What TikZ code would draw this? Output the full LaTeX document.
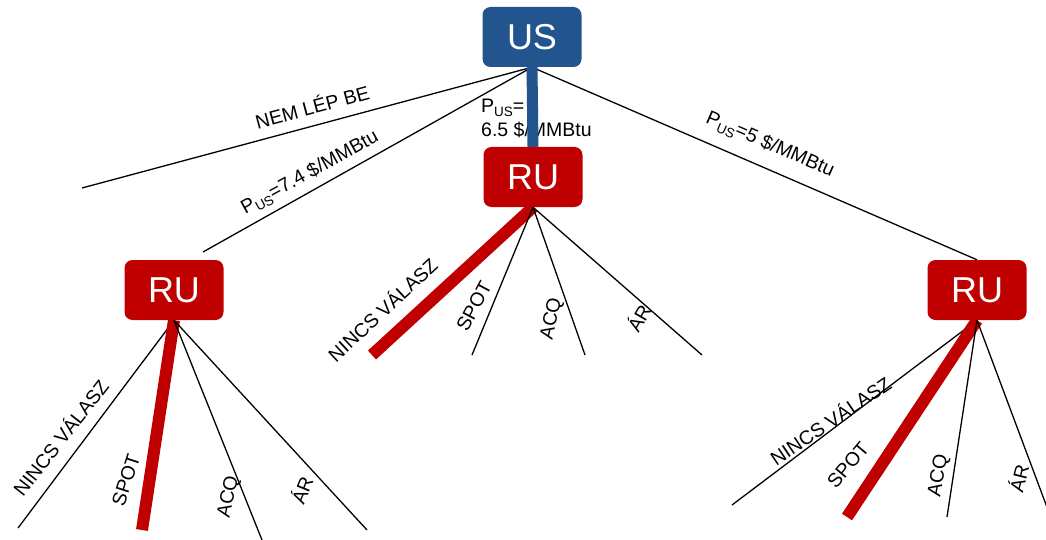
\documentclass[tikz,border=0pt]{standalone}
\usepackage{fontspec}
\setmainfont{Liberation Sans}
\usetikzlibrary{backgrounds}
\definecolor{usblue}{RGB}{34,84,142}
\definecolor{rured}{RGB}{192,0,0}
\newcommand\pussub{P\raisebox{-4pt}{\fontsize{13.5}{13.5}\selectfont US}}

\begin{document}
\begin{tikzpicture}[x=1pt,y=-1pt,
  box/.style={rounded corners=8pt, minimum width=99pt, minimum height=60pt,
    inner sep=0pt, text=white, font=\fontsize{36}{36}\selectfont},
  usbox/.style={box, fill=usblue},
  rubox/.style={box, fill=rured},
  branch/.style={line width=1.3pt, black},
  chosen/.style={line width=12pt, rured},
  lbl/.style={font=\fontsize{19.5}{24}\selectfont, inner sep=0pt},
]
\useasboundingbox (0,0) rectangle (1046,540);
\clip (0,0) rectangle (1046,540);

% decision nodes
\node[usbox] (us)  at (532,37)  {US};
\node[rubox] (ruM) at (533,177) {RU};
\node[rubox] (ruL) at (174,290) {RU};
\node[rubox] (ruR) at (977,290) {RU};

% free ends of the branches
\coordinate (eNem) at (82,188);
\coordinate (eL)   at (203,252);
\coordinate (mN) at (372,355);
\coordinate (mS) at (472,355);
\coordinate (mA) at (585,355);
\coordinate (mR) at (702,355);
\coordinate (lN) at (18,528);
\coordinate (lS) at (142,530);
\coordinate (lA) at (262,540);
\coordinate (lR) at (367,530);
\coordinate (rN) at (732,505);
\coordinate (rS) at (847,517);
\coordinate (rA) at (947,517);
\coordinate (rR) at (1057,534);

\begin{scope}[on background layer]
  % first move
  \draw[branch] (us.south) -- (eNem);
  \draw[branch] (us.south) -- (eL);
  \draw[branch] (us.south) -- (ruR.north);
  % replies, middle
  \draw[chosen] (ruM.south) -- (mN);
  \draw[branch] (ruM.south) -- (mS);
  \draw[branch] (ruM.south) -- (mA);
  \draw[branch] (ruM.south) -- (mR);
  % replies, left
  \draw[branch] (ruL.south) -- (lN);
  \draw[chosen] (ruL.south) -- (lS);
  \draw[branch] (ruL.south) -- (lA);
  \draw[branch] (ruL.south) -- (lR);
  % replies, right
  \draw[branch] (ruR.south) -- (rN);
  \draw[chosen] (ruR.south) -- (rS);
  \draw[branch] (ruR.south) -- (rA);
  \draw[branch] (ruR.south) -- (rR);
\end{scope}

% branch labels of the first move
\node[lbl, rotate=15]    (tNem) at (312,106) {NEM LÉP BE};
\node[lbl, rotate=29]    (t74)  at (310,173) {\pussub=7.4 \$/MMBtu};
\node[lbl, rotate=-23.5] (t5)   at (770,145) {\pussub=5 \$/MMBtu};
\node[lbl, align=left, anchor=north west] (t65) at (481,99)
  {\pussub=\\6.5 \$/MMBtu};

% chosen price, drawn over its label
\draw[line width=11pt, usblue] (us.south) -- (ruM.north);

% reply labels, middle
\node[lbl, rotate=43] (tmN) at (382,309) {NINCS VÁLASZ};
\node[lbl, rotate=62] (tmS) at (474,306) {SPOT};
\node[lbl, rotate=78] (tmA) at (552,319) {ACQ};
\node[lbl, rotate=60] (tmR) at (638,318) {ÁR};
% reply labels, left
\node[lbl, rotate=52] (tlN) at (60,437)  {NINCS VÁLASZ};
\node[lbl, rotate=72] (tlS) at (126,480) {SPOT};
\node[lbl, rotate=78] (tlA) at (229,497) {ACQ};
\node[lbl, rotate=68] (tlR) at (301,490) {ÁR};
% reply labels, right
\node[lbl, rotate=34] (trN) at (830,420) {NINCS VÁLASZ};
\node[lbl, rotate=50] (trS) at (848,465) {SPOT};
\node[lbl, rotate=80] (trA) at (939,476) {ACQ};
\node[lbl, rotate=76] (trR) at (1018,478) {ÁR};
\end{tikzpicture}
\end{document}
